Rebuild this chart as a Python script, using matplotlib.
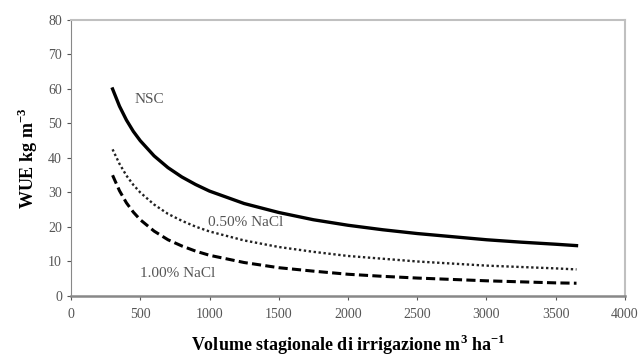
import matplotlib.pyplot as plt

# volume stagionale di irrigazione (m3/ha)
volume = [300, 350, 400, 450, 500, 600, 700, 800, 900, 1000, 1250, 1500, 1750,
          2000, 2250, 2500, 2750, 3000, 3250, 3500, 3650]
nsc = [60.0, 55.0, 51.0, 47.7, 45.0, 40.6, 37.2, 34.5, 32.3, 30.4, 26.8, 24.2, 22.1,
       20.5, 19.2, 18.1, 17.2, 16.3, 15.6, 15.0, 14.6]
nacl_050 = [42.5, 38.3, 34.9, 32.2, 30.0, 26.5, 23.8, 21.8, 20.1, 18.7, 16.1, 14.2, 12.8,
            11.6, 10.8, 10.0, 9.4, 8.8, 8.4, 8.0, 7.7]
nacl_100 = [35.0, 30.5, 27.0, 24.3, 22.1, 18.8, 16.3, 14.5, 13.0, 11.8, 9.7, 8.2, 7.2,
            6.3, 5.7, 5.2, 4.8, 4.4, 4.1, 3.8, 3.7]

plt.rcParams['font.family'] = ['Liberation Serif', 'DejaVu Serif']
plt.rcParams['mathtext.fontset'] = 'custom'
plt.rcParams['mathtext.rm'] = 'Liberation Serif'
plt.rcParams['mathtext.bf'] = 'Liberation Serif:bold'

fig = plt.figure(figsize=(6.41, 3.63), dpi=100)
ax = fig.add_axes([0.1108, 0.1846, 0.8642, 0.7604])

ax.plot(volume, nsc, color='black', lw=2.4, ls='-')
ax.plot(volume, nacl_050, color='#222222', lw=1.7, ls=(0, (1, 1.1)))
ax.plot(volume, nacl_100, color='black', lw=2.2, ls=(0, (3, 1.4)))

ax.text(462, 57, 'NSC', fontsize=11, color='#555555', va='center')
ax.text(989, 21.4, '0.50% NaCl', fontsize=11, color='#555555', va='center')
ax.text(498, 6.4, '1.00% NaCl', fontsize=11, color='#555555', va='center')

ax.set_xlim(0, 4000)
ax.set_ylim(0, 80)
ax.set_xticks(range(0, 4001, 500))
ax.set_yticks(range(0, 81, 10))
ax.tick_params(labelsize=10, colors='#555555', length=3, direction='out')
ax.tick_params(axis='x', pad=6)

for s in ['left', 'bottom']:
    ax.spines[s].set_color('#888888')
ax.spines['bottom'].set_linewidth(1.8)
for s in ['top', 'right']:
    ax.spines[s].set_color('#c0c0c0')
    ax.spines[s].set_linewidth(1.5)

ax.set_xlabel(r'Volume stagionale di irrigazione m$^{\mathbf{3}}$ ha$^{\mathbf{-1}}$',
              fontsize=13, fontweight='bold', labelpad=8)
ax.set_ylabel(r'WUE kg m$^{\mathbf{-3}}$', fontsize=13, fontweight='bold', labelpad=6)

plt.savefig('out.png', dpi=100)
